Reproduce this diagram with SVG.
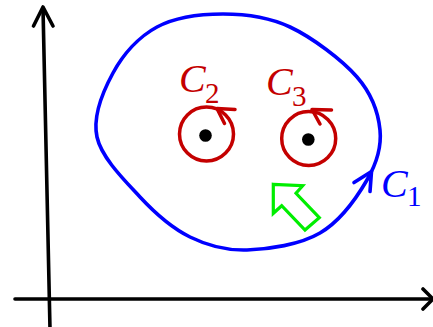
<svg xmlns="http://www.w3.org/2000/svg" width="433" height="327" viewBox="0 0 433 327">
<style>
.ax{stroke:#000;stroke-width:3.6;fill:none;stroke-linecap:round;stroke-linejoin:round}
.blue{stroke:#0000ff;stroke-width:3.6;fill:none;stroke-linecap:round;stroke-linejoin:round}
.red{stroke:#c40000;stroke-width:3.5;fill:none;stroke-linecap:round;stroke-linejoin:round}
.lbl{font-family:"Liberation Serif","DejaVu Serif",serif;font-style:italic;font-size:40px}
.sub{font-family:"Liberation Serif","DejaVu Serif",serif;font-size:29px}
</style>
<g id="axes">
<path class="ax" d="M15,299 L433,299"/>
<path class="ax" d="M423,289 L433,299 L423,309"/>
<path class="ax" d="M50,329 L43,8"/>
<path class="ax" d="M33.5,26 L43,7 L53,26"/>
</g>
<g id="C1">
<path class="blue" d="M97,137 C92.5,116.3 103,91.3 113,73 C123,54.7 138.7,36.8 157,27 C175.3,17.2 200.8,14 223,14 C245.2,14 267.7,16.5 290,27 C312.3,37.5 342,59.8 357,77 C372,94.2 378.3,112.8 380,130 C381.7,147.2 377,162.8 367,180 C357,197.2 340,221.3 320,233 C300,244.7 268.7,249.3 247,250 C225.3,250.7 207.8,245.8 190,237 C172.2,228.2 155.5,213.7 140,197 C124.5,180.3 101.5,157.7 97,137 Z"/>
<path class="blue" d="M354,182.5 L371.5,171.5 L370,191.5"/>
<text class="lbl" x="381" y="197" fill="#0000ff">C</text>
<text class="sub" x="407" y="206" fill="#0000ff">1</text>
</g>
<g id="C2">
<circle class="red" cx="206.5" cy="134" r="27"/>
<path class="red" d="M235,109.5 L217,108.5 L224.5,123.5"/>
<circle cx="205.5" cy="135.5" r="6.3" fill="#000"/>
<text class="lbl" x="179" y="92" fill="#c40000">C</text>
<text class="sub" x="205" y="103" fill="#c40000">2</text>
</g>
<g id="C3">
<circle class="red" cx="308.7" cy="138.5" r="27"/>
<path class="red" d="M331.5,110 L312,109.5 L320,124"/>
<circle cx="308.3" cy="139.5" r="6.3" fill="#000"/>
<text class="lbl" x="266" y="95" fill="#c40000">C</text>
<text class="sub" x="292" y="106" fill="#c40000">3</text>
</g>
<g id="green-arrow">
<polygon points="273.3,184.3 302.7,185.7 296,193.3 319.3,217.7 305,230 281.7,205.7 273.3,213.3" fill="#fff" stroke="#00ee00" stroke-width="3.2" stroke-linejoin="miter"/>
</g>
</svg>
